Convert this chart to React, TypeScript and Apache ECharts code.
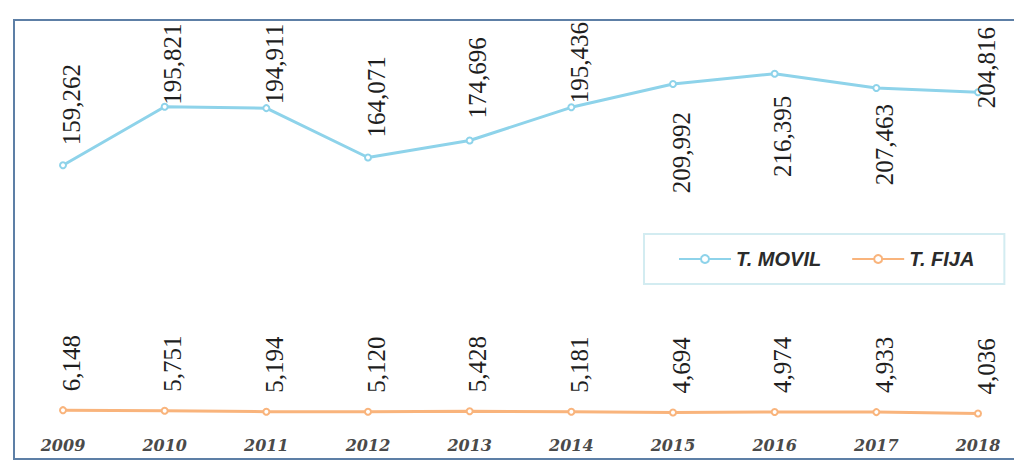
import React, { useEffect, useRef } from "react";
import * as echarts from "echarts";

const years = ["2009", "2010", "2011", "2012", "2013", "2014", "2015", "2016", "2017", "2018"];
const movil = [159262, 195821, 194911, 164071, 174696, 195436, 209992, 216395, 207463, 204816];
const fija = [6148, 5751, 5194, 5120, 5428, 5181, 4694, 4974, 4933, 4036];
const seriesNames = ["T. MOVIL", "T. FIJA"];

// label placement (gap in px between point and label; negative = overlaps point)
const movilLabelBelow = [false, false, false, false, false, false, true, true, true, false];
const movilLabelGap = [16, -2, 0, 16, 18, 0, 24, 18, 12, -20];

const BLUE = "#8ed3ea";
const ORANGE = "#f9b47c";

const fmt = (v: number) => v.toLocaleString("en-US");

const labelFont = {
  fontFamily: "'Liberation Serif', serif",
  fontSize: 25,
  color: "#1e1e1e",
};

export default function App() {
  const ref = useRef<HTMLDivElement>(null);
  useEffect(() => {
    if (!ref.current) return;
    const chart = echarts.init(ref.current, null, { renderer: "svg" });
    const movilData = movil.map((v, i) => {
      const below = movilLabelBelow[i];
      const gap = movilLabelGap[i];
      return {
        value: v,
        label: below
          ? { position: "bottom", align: "right", distance: 0, offset: [-gap, 8] }
          : { position: "top", align: "left", distance: 0, offset: [gap, 8] },
      };
    });
    chart.setOption({
      animation: false,
      backgroundColor: "#ffffff",
      graphic: [
        {
          type: "rect",
          shape: { x: 14, y: 20, width: 1010, height: 439 },
          style: { fill: "none", stroke: "#5d7fa6", lineWidth: 2 },
          silent: true,
        },
      ],
      grid: { left: 63, right: 36, top: 20, bottom: 49 },
      legend: {
        data: seriesNames,
        left: 644,
        top: 234,
        padding: [15, 30, 15, 34],
        itemWidth: 52,
        itemHeight: 10,
        itemGap: 30,
        borderColor: "#d3ecf1",
        borderWidth: 2,
        textStyle: {
          fontFamily: "Liberation Sans",
          fontWeight: "bold",
          fontStyle: "italic",
          fontSize: 20,
          color: "#2b2b2b",
        },
      },
      xAxis: {
        type: "category",
        data: years,
        boundaryGap: false,
        axisLine: { show: false },
        axisTick: { show: false },
        axisLabel: {
          margin: 17,
          fontFamily: "DejaVu Serif",
          fontWeight: "bold",
          fontStyle: "italic",
          fontSize: 16,
          color: "#4a4a4a",
        },
      },
      yAxis: {
        type: "value",
        min: 0,
        max: 250000,
        show: false,
        splitLine: { show: false },
      },
      series: [
        {
          name: seriesNames[0],
          type: "line",
          data: movilData,
          symbol: "emptyCircle",
          symbolSize: 6,
          lineStyle: { color: BLUE, width: 3 },
          itemStyle: { color: BLUE },
          label: {
            show: true,
            rotate: 90,
            verticalAlign: "middle",
            formatter: (p: any) => fmt(p.value),
            ...labelFont,
          },
        },
        {
          name: seriesNames[1],
          type: "line",
          data: fija,
          symbol: "emptyCircle",
          symbolSize: 6,
          lineStyle: { color: ORANGE, width: 3 },
          itemStyle: { color: ORANGE },
          label: {
            show: true,
            position: "top",
            distance: 0,
            rotate: 90,
            align: "left",
            verticalAlign: "middle",
            offset: [15, 8],
            formatter: (p: any) => fmt(p.value),
            ...labelFont,
          },
        },
      ],
    });
    return () => chart.dispose();
  }, []);
  return (
    <div
      ref={ref}
      style={{ position: "fixed", left: 0, top: 0, width: 1014, height: 469, background: "#fff" }}
    />
  );
}
